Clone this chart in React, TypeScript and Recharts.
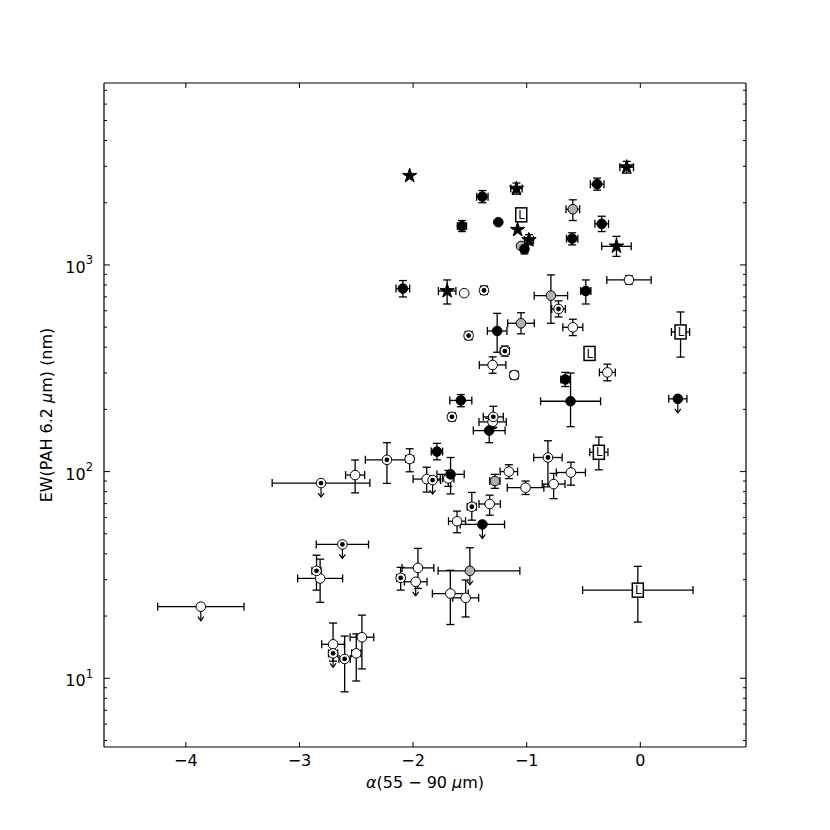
import React from 'react';
import { ScatterChart, Scatter, XAxis, YAxis, ErrorBar, Label } from 'recharts';

// Each point: [x, y, xErrLow, xErrHigh, yLowBound, yHighBound, upperLimit]
type Pt = [number, number, number, number, number, number, number];

const filledPoints: Pt[] = [
  [-1.39, 2140, 0.05, 0.05, 2000, 2290, 0],
  [-1.57, 1540, 0.04, 0.04, 1450, 1640, 0],
  [-1.25, 1610, 0, 0, 1610, 1610, 0],
  [-1.02, 1195, 0.03, 0.03, 1130, 1260, 0],
  [-0.38, 2460, 0.06, 0.06, 2300, 2630, 0],
  [-0.34, 1580, 0.06, 0.06, 1450, 1720, 0],
  [-0.6, 1340, 0.05, 0.05, 1250, 1430, 0],
  [-2.09, 768, 0.06, 0.06, 700, 840, 0],
  [-0.48, 748, 0.045, 0.045, 647, 846, 0],
  [-1.26, 479, 0.086, 0.086, 378, 583, 0],
  [-0.66, 279, 0.04, 0.04, 258, 302, 0],
  [-0.614, 219, 0.264, 0.264, 165, 300, 0],
  [0.33, 225, 0.08, 0.08, 225, 225, 1],
  [-1.58, 221, 0.097, 0.097, 206, 236, 0],
  [-1.33, 158, 0.14, 0.14, 138, 181, 0],
  [-1.79, 125, 0.05, 0.05, 114, 137, 0],
  [-1.67, 97, 0.12, 0.12, 78, 117, 0],
  [-1.39, 55.5, 0.195, 0.195, 55.5, 55.5, 1],
];

const greyPoints: Pt[] = [
  [-0.594, 1860, 0.06, 0.06, 1640, 2066, 0],
  [-1.05, 1235, 0, 0, 1235, 1235, 0],
  [-0.787, 710, 0.147, 0.147, 522, 895, 0],
  [-1.05, 522, 0.117, 0.117, 464, 587, 0],
  [-1.28, 90, 0.045, 0.045, 83, 97, 0],
  [-1.5, 33.1, 0.28, 0.44, 33.1, 42.8, 1],
];

const openPoints: Pt[] = [
  [-1.55, 730, 0, 0, 730, 730, 0],
  [-0.1, 846, 0.195, 0.195, 808, 886, 0],
  [-0.594, 499, 0.088, 0.088, 455, 546, 0],
  [-1.3, 328, 0.117, 0.117, 299, 359, 0],
  [-1.11, 293, 0.035, 0.035, 280, 306, 0],
  [-0.29, 302, 0.07, 0.07, 275, 331, 0],
  [-1.3, 174, 0.12, 0.12, 162, 187, 0],
  [-2.03, 115, 0.035, 0.035, 99.8, 129, 0],
  [-2.51, 96.2, 0.084, 0.084, 78.9, 113.8, 0],
  [-1.88, 92, 0.12, 0.12, 79.6, 105, 0],
  [-1.69, 92.7, 0.05, 0.05, 84.8, 101.3, 0],
  [-1.157, 100, 0.077, 0.077, 92.5, 108, 0],
  [-1.01, 83.6, 0.161, 0.161, 77.5, 90, 0],
  [-0.763, 87, 0.1, 0.1, 74, 98, 0],
  [-0.611, 99, 0.128, 0.128, 86, 111, 0],
  [-1.326, 69.7, 0.094, 0.094, 61.5, 76.9, 0],
  [-1.613, 57.5, 0.075, 0.075, 50.6, 64.4, 0],
  [-1.957, 34.2, 0.14, 0.14, 27.2, 42.5, 0],
  [-1.977, 29.3, 0.1, 0.1, 29.3, 29.3, 1],
  [-1.672, 25.7, 0.158, 0.158, 18.2, 33.3, 0],
  [-1.537, 24.5, 0.114, 0.114, 19.8, 29.9, 0],
  [-2.818, 30.4, 0.198, 0.198, 23.3, 37.7, 0],
  [-3.868, 22.2, 0.38, 0.38, 22.2, 22.2, 1],
  [-2.704, 14.6, 0.1, 0.1, 12.1, 18.5, 0],
  [-2.5, 13.2, 0.04, 0.04, 9.7, 16.4, 0],
  [-2.45, 15.8, 0.104, 0.104, 11.1, 20.2, 0],
];

const dottedPoints: Pt[] = [
  [-1.376, 753, 0.03, 0.03, 720, 790, 0],
  [-0.72, 612, 0.06, 0.06, 560, 670, 0],
  [-1.511, 455, 0.03, 0.03, 435, 476, 0],
  [-1.192, 383, 0.04, 0.04, 362, 405, 0],
  [-1.658, 184, 0.03, 0.03, 176, 192, 0],
  [-1.294, 184, 0.088, 0.088, 164, 207, 0],
  [-2.23, 114, 0.19, 0.19, 87.7, 138, 0],
  [-2.81, 88, 0.43, 0.43, 88, 88, 1],
  [-1.828, 91, 0.07, 0.07, 91, 91, 1],
  [-0.813, 117, 0.125, 0.125, 84.4, 141, 0],
  [-1.483, 67.6, 0.04, 0.04, 58.2, 79.3, 0],
  [-2.85, 33.1, 0.04, 0.04, 26.7, 39.4, 0],
  [-2.109, 30.6, 0.035, 0.035, 26.7, 34.4, 0],
  [-2.622, 44.4, 0.23, 0.23, 44.4, 44.4, 1],
  [-2.704, 13.2, 0.04, 0.04, 13.2, 13.2, 1],
  [-2.602, 12.4, 0.05, 0.05, 8.6, 16.0, 0],
];

const starPoints: Pt[] = [
  [-2.03, 2700, 0, 0, 2700, 2700, 0],
  [-1.09, 2340, 0.05, 0.05, 2200, 2490, 0],
  [-1.08, 1480, 0, 0, 1480, 1480, 0],
  [-0.98, 1320, 0.04, 0.04, 1250, 1400, 0],
  [-0.12, 2970, 0.06, 0.06, 2780, 3170, 0],
  [-0.21, 1230, 0.13, 0.13, 1100, 1375, 0],
  [-1.7, 748, 0.077, 0.077, 647, 846, 0],
];

const lPoints: Pt[] = [
  [-1.048, 1747, 0, 0, 1747, 1747, 0],
  [-0.447, 373, 0, 0, 373, 373, 0],
  [0.354, 474, 0.08, 0.08, 358, 592, 0],
  [-0.365, 124, 0.08, 0.08, 102, 147, 0],
  [-0.022, 26.7, 0.486, 0.486, 18.7, 34.8, 0],
];

const xDomain: [number, number] = [-4.72, 0.93];
const yDomain: [number, number] = [4.65, 7590];
const xTickValues = [-4, -3, -2, -1, 0];
const yTickValues = [
  5, 6, 7, 8, 9, 10, 20, 30, 40, 50, 60, 70, 80, 90, 100, 200, 300, 400, 500, 600, 700, 800, 900,
  1000, 2000, 3000, 4000, 5000, 6000, 7000,
];

const FONT = 'DejaVu Sans';
const TS = 0.0001;

const toRows = (pts: Pt[]) =>
  pts.map(([x, y, xl, xh, yl, yh, lim]) => ({
    x,
    y,
    ex: xl || xh ? [xl, xh] : null,
    ey: y - yl || yh - y ? [y - yl, yh - y] : null,
    lim,
  }));

const isMajor = (v: number) => Math.abs(Math.log10(v) - Math.round(Math.log10(v))) < 1e-9;

const Arrow = ({ cx, cy }: { cx: number; cy: number }) => (
  <g stroke="#000" strokeWidth={1.2} fill="none">
    <line x1={cx} y1={cy} x2={cx} y2={cy + 14} />
    <polyline points={`${cx - 3},${cy + 10} ${cx},${cy + 14} ${cx + 3},${cy + 10}`} />
  </g>
);

const starPath = (cx: number, cy: number, R: number, r: number) => {
  let d = '';
  for (let i = 0; i < 10; i++) {
    const a = -Math.PI / 2 + (i * Math.PI) / 5;
    const rad = i % 2 === 0 ? R : r;
    d += (i ? 'L' : 'M') + (cx + rad * Math.cos(a)).toFixed(2) + ',' + (cy + rad * Math.sin(a)).toFixed(2);
  }
  return d + 'Z';
};

const makeShape = (kind: string) => (props: any) => {
  const { cx, cy, payload } = props;
  if (cx == null || cy == null) return <g />;
  const lim = payload && payload.lim;
  let marker: React.ReactNode = null;
  if (kind === 'filled') {
    marker = <circle cx={cx} cy={cy} r={4.8} fill="#000" stroke="#000" strokeWidth={1} />;
  } else if (kind === 'grey') {
    marker = <circle cx={cx} cy={cy} r={4.8} fill="#b0b0b0" stroke="#000" strokeWidth={1} />;
  } else if (kind === 'open') {
    marker = <circle cx={cx} cy={cy} r={4.8} fill="#fff" stroke="#000" strokeWidth={1} />;
  } else if (kind === 'dotted') {
    marker = (
      <g>
        <circle cx={cx} cy={cy} r={4.8} fill="#fff" stroke="#000" strokeWidth={1} />
        <circle cx={cx} cy={cy} r={2.4} fill="#000" />
      </g>
    );
  } else if (kind === 'star') {
    marker = <path d={starPath(cx, cy, 7.6, 2.9)} fill="#000" stroke="#000" strokeWidth={1} />;
  } else if (kind === 'L') {
    marker = (
      <g>
        <rect x={cx - 5.5} y={cy - 7} width={11} height={14} fill="#fff" stroke="#000" strokeWidth={1.5} />
        <text x={cx + 0.3} y={cy + 4.2} textAnchor="middle" fontSize={11.5} fontFamily={FONT} fill="#000">
          L
        </text>
      </g>
    );
  }
  return (
    <g>
      {lim ? <Arrow cx={cx} cy={cy} /> : null}
      {marker}
    </g>
  );
};

const hiddenShape = () => <g />;

const fmtX = (v: number) => (v < 0 ? '\u2212' + Math.abs(v) : String(v));

const XTickBottom = (props: any) => {
  const { x, y, payload } = props;
  return (
    <g>
      <line x1={x} y1={y} x2={x} y2={y - 5} stroke="#000" strokeWidth={1} />
      <text x={x} y={y + 18.5} textAnchor="middle" fontSize={16} fontFamily={FONT} fill="#000">
        {fmtX(payload.value)}
      </text>
    </g>
  );
};

const XTickTop = (props: any) => {
  const { x, y } = props;
  return <line x1={x} y1={y} x2={x} y2={y + 5} stroke="#000" strokeWidth={1} />;
};

const YTickLeft = (props: any) => {
  const { x, y, payload } = props;
  const v = payload.value;
  const major = isMajor(v);
  return (
    <g>
      <line x1={x} y1={y} x2={x + (major ? 6 : 3)} y2={y} stroke="#000" strokeWidth={1} />
      {major ? (
        <text x={x - 11} y={y + 8} textAnchor="end" fontSize={16} fontFamily={FONT} fill="#000">
          10
          <tspan dy={-8.5} fontSize={11.5}>
            {Math.round(Math.log10(v))}
          </tspan>
        </text>
      ) : null}
    </g>
  );
};

const YTickRight = (props: any) => {
  const { x, y, payload } = props;
  const major = isMajor(payload.value);
  return <line x1={x} y1={y} x2={x - (major ? 6 : 3)} y2={y} stroke="#000" strokeWidth={1} />;
};

const XLabelContent = (props: any) => {
  const vb = props.viewBox || {};
  const cx = vb.x + vb.width / 2;
  return (
    <text x={cx} y={vb.y + 41} textAnchor="middle" fontSize={16} fontFamily={FONT} fill="#000">
      <tspan fontStyle="italic">α</tspan>(55 − 90 <tspan fontStyle="italic">μ</tspan>m)
    </text>
  );
};

const YLabelContent = (props: any) => {
  const vb = props.viewBox || {};
  const tx = vb.x + 8;
  const ty = vb.y + vb.height / 2;
  return (
    <text
      x={tx}
      y={ty}
      textAnchor="middle"
      fontSize={16}
      fontFamily={FONT}
      fill="#000"
      transform={`rotate(-90, ${tx}, ${ty})`}
    >
      EW(PAH 6.2 <tspan fontStyle="italic">μ</tspan>m) (nm)
    </text>
  );
};

const seriesDefs: { kind: string; pts: Pt[] }[] = [
  { kind: 'open', pts: openPoints },
  { kind: 'dotted', pts: dottedPoints },
  { kind: 'grey', pts: greyPoints },
  { kind: 'filled', pts: filledPoints },
  { kind: 'L', pts: lPoints },
  { kind: 'star', pts: starPoints },
];

export default function App() {
  return (
    <div style={{ width: 822, height: 822 }}>
      <ScatterChart width={822} height={822} margin={{ top: 74, right: 83, bottom: 33, left: 36 }}>
        <XAxis
          xAxisId="b"
          dataKey="x"
          type="number"
          domain={xDomain}
          allowDataOverflow
          ticks={xTickValues}
          interval={0}
          height={50}
          tickSize={TS}
          tickMargin={0}
          tickLine={false}
          axisLine={{ stroke: '#000', strokeWidth: 1.2 }}
          tick={<XTickBottom />}
        >
          <Label content={<XLabelContent />} />
        </XAxis>
        <XAxis
          xAxisId="t"
          orientation="top"
          dataKey="x"
          type="number"
          domain={xDomain}
          allowDataOverflow
          ticks={xTickValues}
          interval={0}
          height={1}
          tickSize={TS}
          tickMargin={0}
          tickLine={false}
          axisLine={{ stroke: '#000', strokeWidth: 1.2 }}
          tick={<XTickTop />}
        />
        <YAxis
          yAxisId="l"
          dataKey="y"
          type="number"
          scale="log"
          domain={yDomain}
          allowDataOverflow
          ticks={yTickValues}
          interval={0}
          width={60}
          tickSize={TS}
          tickMargin={0}
          tickLine={false}
          axisLine={{ stroke: '#000', strokeWidth: 1.2 }}
          tick={<YTickLeft />}
        >
          <Label content={<YLabelContent />} />
        </YAxis>
        <YAxis
          yAxisId="r"
          orientation="right"
          dataKey="y"
          type="number"
          scale="log"
          domain={yDomain}
          allowDataOverflow
          ticks={yTickValues}
          interval={0}
          width={1}
          tickSize={TS}
          tickMargin={0}
          tickLine={false}
          axisLine={{ stroke: '#000', strokeWidth: 1.2 }}
          tick={<YTickRight />}
        />
        <Scatter
          xAxisId="t"
          yAxisId="r"
          data={toRows(lPoints)}
          isAnimationActive={false}
          shape={hiddenShape}
          legendType="none"
        />
        {seriesDefs.map((s) => (
          <Scatter
            key={s.kind}
            xAxisId="b"
            yAxisId="l"
            data={toRows(s.pts)}
            isAnimationActive={false}
            shape={makeShape(s.kind)}
          >
            <ErrorBar dataKey="ex" direction="x" width={4} stroke="#000" strokeWidth={1.3} />
            <ErrorBar dataKey="ey" direction="y" width={4} stroke="#000" strokeWidth={1.3} />
          </Scatter>
        ))}
      </ScatterChart>
    </div>
  );
}
